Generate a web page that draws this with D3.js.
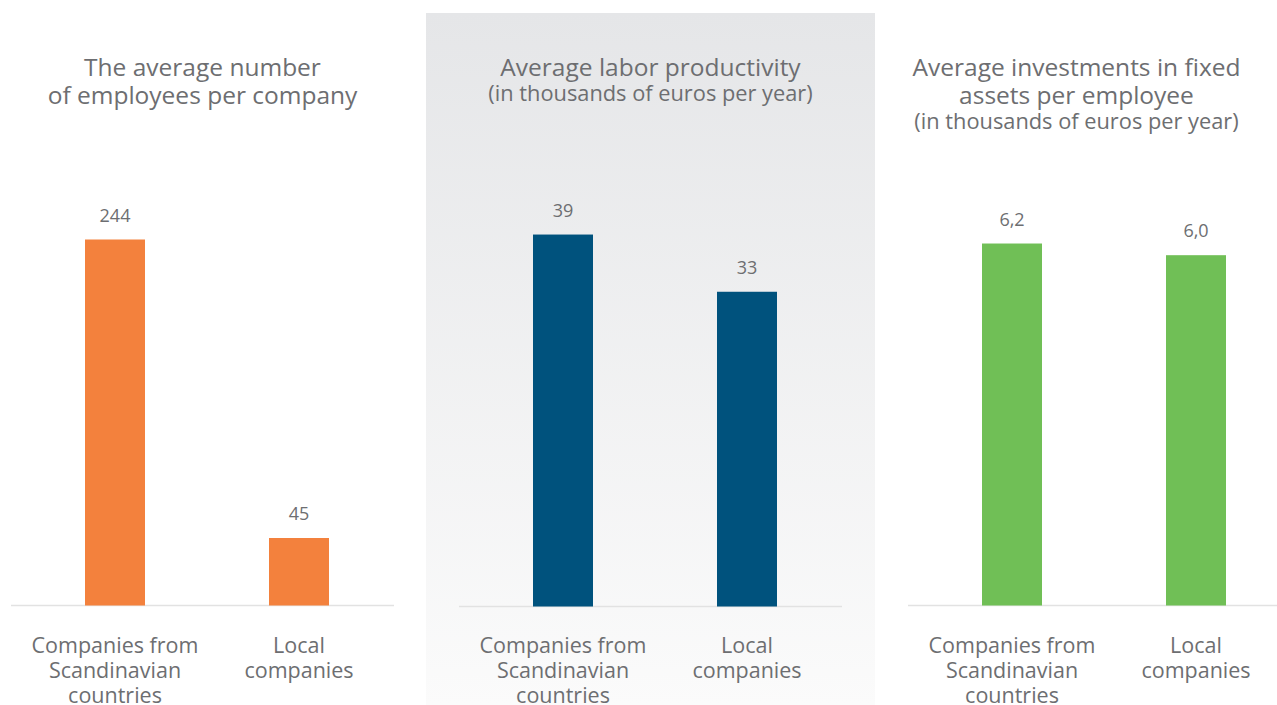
<!DOCTYPE html>
<html>
<head>
<meta charset="utf-8">
<script src="https://cdn.jsdelivr.net/npm/d3@7"></script>
<style>
  html, body { margin: 0; padding: 0; background: #ffffff; }
  svg { display: block; font-family: "Open Sans", "Noto Sans", sans-serif; }
</style>
</head>
<body>
<svg id="chart" width="1277" height="705"></svg>
<script>
// Categories shared by all three panels (each label split into lines)
const categories = ["Scandinavian", "Local"];
const categoryLines = [
  ["Companies from", "Scandinavian", "countries"],
  ["Local", "companies"]
];

// Panel titles: main lines and optional unit subtitle
const titleLines = [
  ["The average number", "of employees per company"],
  ["Average labor productivity"],
  ["Average investments in fixed", "assets per employee"]
];
const subtitles = [null, "(in thousands of euros per year)", "(in thousands of euros per year)"];

// Values per panel: [Scandinavian, Local]
const employees = [244, 45];
const productivity = [39, 33];
const investments = [6.2, 6.0];

const panelValues = [employees, productivity, investments];
const panelColors = ["#f3813d", "#00527d", "#70bf56"];
const panelDecimals = [0, 0, 1];
const panelMax = [250, 40, 6.5];

const svg = d3.select("#chart");
const textColor = "#6d6e71";

// Gradient backdrop for the middle panel
const defs = svg.append("defs");
const grad = defs.append("linearGradient")
  .attr("id", "midBg").attr("x1", 0).attr("y1", 0).attr("x2", 0).attr("y2", 1);
grad.append("stop").attr("offset", "0%").attr("stop-color", "#e5e6e8");
grad.append("stop").attr("offset", "100%").attr("stop-color", "#fbfbfb");
svg.append("rect")
  .attr("x", 426).attr("y", 13).attr("width", 449).attr("height", 705 - 13)
  .attr("fill", "url(#midBg)");

const locale = d3.formatLocale({ decimal: ",", thousands: " ", grouping: [3], currency: ["", "€"] });

// Layout of each panel
const panels = [
  { x0: 11,  base: 605.5, height: 375,  titleX: 202.5 },
  { x0: 459, base: 606.5, height: 381.5, titleX: 650.5 },
  { x0: 908, base: 605.5, height: 379.5, titleX: 1076.5 }
];

panels.forEach((p, i) => {
  const g = svg.append("g");
  const values = panelValues[i];
  const fmt = locale.format("." + panelDecimals[i] + "f");

  const x = d3.scaleBand()
    .domain(categories)
    .range([p.x0 + 12, p.x0 + 380])
    .paddingInner(124 / 184)
    .paddingOuter(62 / 184);

  const y = d3.scaleLinear()
    .domain([0, panelMax[i]])
    .range([p.base, p.base - p.height]);

  // Baseline axis (no ticks, labels drawn separately)
  const axis = d3.axisBottom(x).tickSize(0).tickFormat("");
  const ax = g.append("g").attr("transform", `translate(0,${p.base})`).call(axis);
  ax.select(".domain")
    .attr("d", `M${p.x0},0H${p.x0 + 383}`)
    .attr("stroke", "#e2e2e2").attr("stroke-width", 1.5);

  // Bars
  g.selectAll("rect.bar")
    .data(values)
    .join("rect")
    .attr("class", "bar")
    .attr("x", (d, j) => x(categories[j]))
    .attr("width", x.bandwidth())
    .attr("y", d => y(d))
    .attr("height", d => p.base - y(d))
    .attr("fill", panelColors[i]);

  // Value labels
  g.selectAll("text.val")
    .data(values)
    .join("text")
    .attr("class", "val")
    .attr("x", (d, j) => x(categories[j]) + x.bandwidth() / 2)
    .attr("y", d => y(d) - 18)
    .attr("text-anchor", "middle")
    .attr("font-size", 18)
    .attr("fill", textColor)
    .text(d => fmt(d));

  // Category labels, one text block per category
  categoryLines.forEach((lines, j) => {
    const cx = x(categories[j]) + x.bandwidth() / 2;
    const t = g.append("text")
      .attr("text-anchor", "middle")
      .attr("font-size", 21.5)
      .attr("fill", textColor);
    lines.forEach((line, k) => {
      t.append("tspan").attr("x", cx).attr("y", 653 + k * 25).text(line);
    });
  });

  // Title block (main lines plus smaller subtitle)
  const tl = titleLines[i];
  const title = g.append("text")
    .attr("text-anchor", "middle")
    .attr("fill", textColor);
  tl.forEach((line, k) => {
    title.append("tspan")
      .attr("x", p.titleX)
      .attr("y", 75.5 + k * 28)
      .attr("font-size", 24.5)
      .text(line);
  });
  if (subtitles[i]) {
    title.append("tspan")
      .attr("x", p.titleX)
      .attr("y", 75.5 + (tl.length - 1) * 28 + 25)
      .attr("font-size", 21.8)
      .text(subtitles[i]);
  }
});
</script>
</body>
</html>
